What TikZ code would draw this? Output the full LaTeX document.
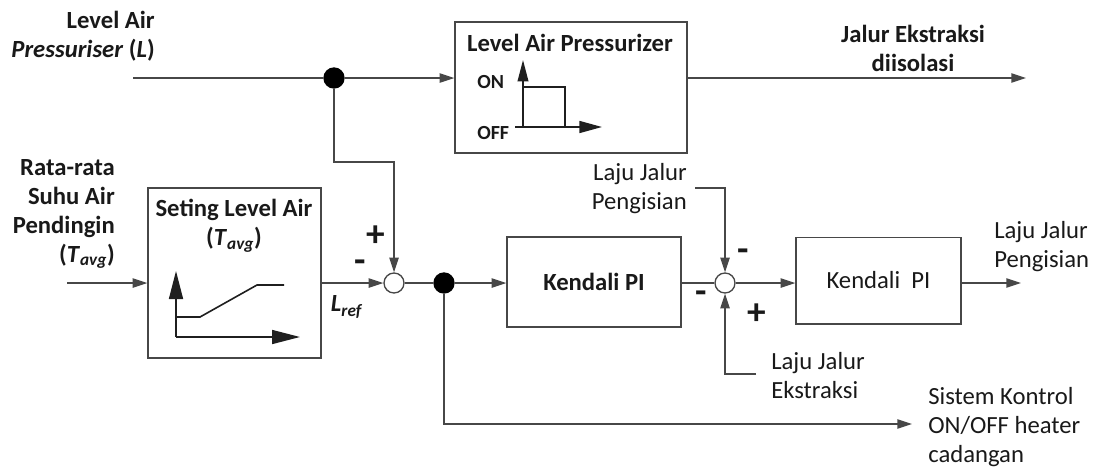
\documentclass[tikz,border=0pt]{standalone}
\usepackage{fontspec}
\setmainfont{Carlito}
\usetikzlibrary{arrows.meta}
\begin{document}
\begin{tikzpicture}[x=0.75pt,y=-0.75pt,
  line/.style={draw=black!72, line width=1pt},
  arr/.style={line, -{Triangle[length=11pt,width=7pt]}},
  gline/.style={draw=black!88, line width=1.2pt},
  blk/.style={draw=black!72, line width=1pt, rectangle, inner sep=0},
  txt/.style={inner sep=0, font=\fontsize{18.5}{21.75}\selectfont, text=black!90},
  btxt/.style={inner sep=0, font=\fontsize{18.5}{21.75}\selectfont\bfseries, text=black!90},
  smalltxt/.style={inner sep=0, font=\fontsize{15}{18}\selectfont\bfseries, text=black!90},
  sgn/.style={inner sep=0, font=\fontsize{28}{28}\selectfont\bfseries, text=black!90},
  sumn/.style={circle, draw=black!72, line width=1pt, fill=white, minimum size=15pt, inner sep=0},
  dotn/.style={circle, fill=black, minimum size=16pt, inner sep=0},
]
\useasboundingbox (0,0) rectangle (1094,468);

% blocks
\node[blk, minimum width=174pt, minimum height=98.25pt] (plc) at (571,87.5) {};
\node[blk, minimum width=129.75pt, minimum height=127.5pt] (set) at (234.5,273) {};
\node[blk, btxt, minimum width=130.5pt, minimum height=67.5pt] (pi1) at (594,282) {Kendali PI};
\node[blk, txt, minimum width=123.75pt, minimum height=65pt] (pi2) at (878.5,280.5) {Kendali~~PI};

% junctions
\node[sumn] (sum1) at (394,283) {};
\node[sumn] (sum2) at (725,283) {};
\node[dotn] (dot1) at (334,78) {};
\node[dotn] (dot2) at (444,283) {};

% free ends
\coordinate (in1) at (133,78);
\coordinate (out1) at (1026,78);
\coordinate (k1) at (334,162);
\coordinate (in2) at (67,283);
\coordinate (k2) at (695,188);
\coordinate (k3) at (756,374);
\coordinate (out2) at (1021,283);
\coordinate (out3) at (912,424);

% connectors
\draw[line] (in1) -- (dot1);
\draw[arr] (dot1) -- (dot1 -| plc.west);
\draw[arr] (plc.east |- dot1) -- (out1);
\draw[arr] (dot1) -- (k1) -| (sum1.north);
\draw[arr] (in2) -- (in2 -| set.west);
\draw[arr] (set.east |- sum1) -- (sum1.west);
\draw[line] (sum1) -- (dot2);
\draw[arr] (dot2) -- (dot2 -| pi1.west);
\draw[line] (pi1.east |- sum2) -- (sum2.west);
\draw[arr] (k2) -| (sum2.north);
\draw[arr] (k3) -| (sum2.south);
\draw[arr] (sum2) -- (sum2 -| pi2.west);
\draw[arr] (pi2.east |- sum2) -- (out2);
\draw[arr] (dot2) |- (out3);

% inner graph: pressurizer on/off
\draw[gline, -{Triangle[length=16pt,width=8pt]}] (523,127) -- (523,60);
\draw[gline] (523,87) -- (565,87) -- (565,127);
\draw[gline, -{Triangle[length=17pt,width=9pt]}] (515,127) -- (602,127);
% inner graph: level setpoint
\draw[gline, -{Triangle[length=21pt,width=10.5pt]}] (176,337) -- (176,271);
\draw[gline, -{Triangle[length=21pt,width=10.5pt]}] (176,337) -- (300,337);
\draw[gline] (176,317) -- (200,317) -- (257,285) -- (284,285);

% texts
\node[btxt, anchor=east, align=right] (lblL) at (155,36) {Level Air\\\textit{Pressuriser} (\textit{L})};
\node[btxt, align=center] (lblJE) at (913,48) {Jalur Ekstraksi\\diisolasi};
\node[btxt, anchor=east, align=right] (lblT) at (115,214) {Rata-rata\\Suhu Air\\Pendingin\\(\textit{T}\textsubscript{\textit{avg}})};
\node[btxt, align=center] (setT) at (234,226) {Seting Level Air\\(\textit{T}\textsubscript{\textit{avg}})};
\node[btxt] (plcT) at (570,43) {Level Air Pressurizer};
\node[smalltxt, anchor=west] (on) at (477,82) {ON};
\node[smalltxt, anchor=west] (off) at (477,133) {OFF};
\node[btxt] (lref) at (347,307) {\textit{L}\textsubscript{\textit{ref}}};
\node[txt, anchor=east, align=right] (lpi) at (687,189) {Laju Jalur\\Pengisian};
\node[txt, anchor=west, align=left] (lpo) at (994,247) {Laju Jalur\\Pengisian};
\node[txt, anchor=west, align=left] (lek) at (771,376) {Laju Jalur\\Ekstraksi};
\node[txt, anchor=west, align=left] (lsk) at (928,427) {Sistem Kontrol\\ON/OFF heater\\cadangan};

% signs
\node[sgn] (s1p) at (376,236) {+};
\node[sgn] (s1m) at (360,266) {-};
\node[sgn] (s2mt) at (743,255) {-};
\node[sgn] (s2ml) at (701,297) {-};
\node[sgn] (s2p) at (757,314) {+};
\end{tikzpicture}
\end{document}
